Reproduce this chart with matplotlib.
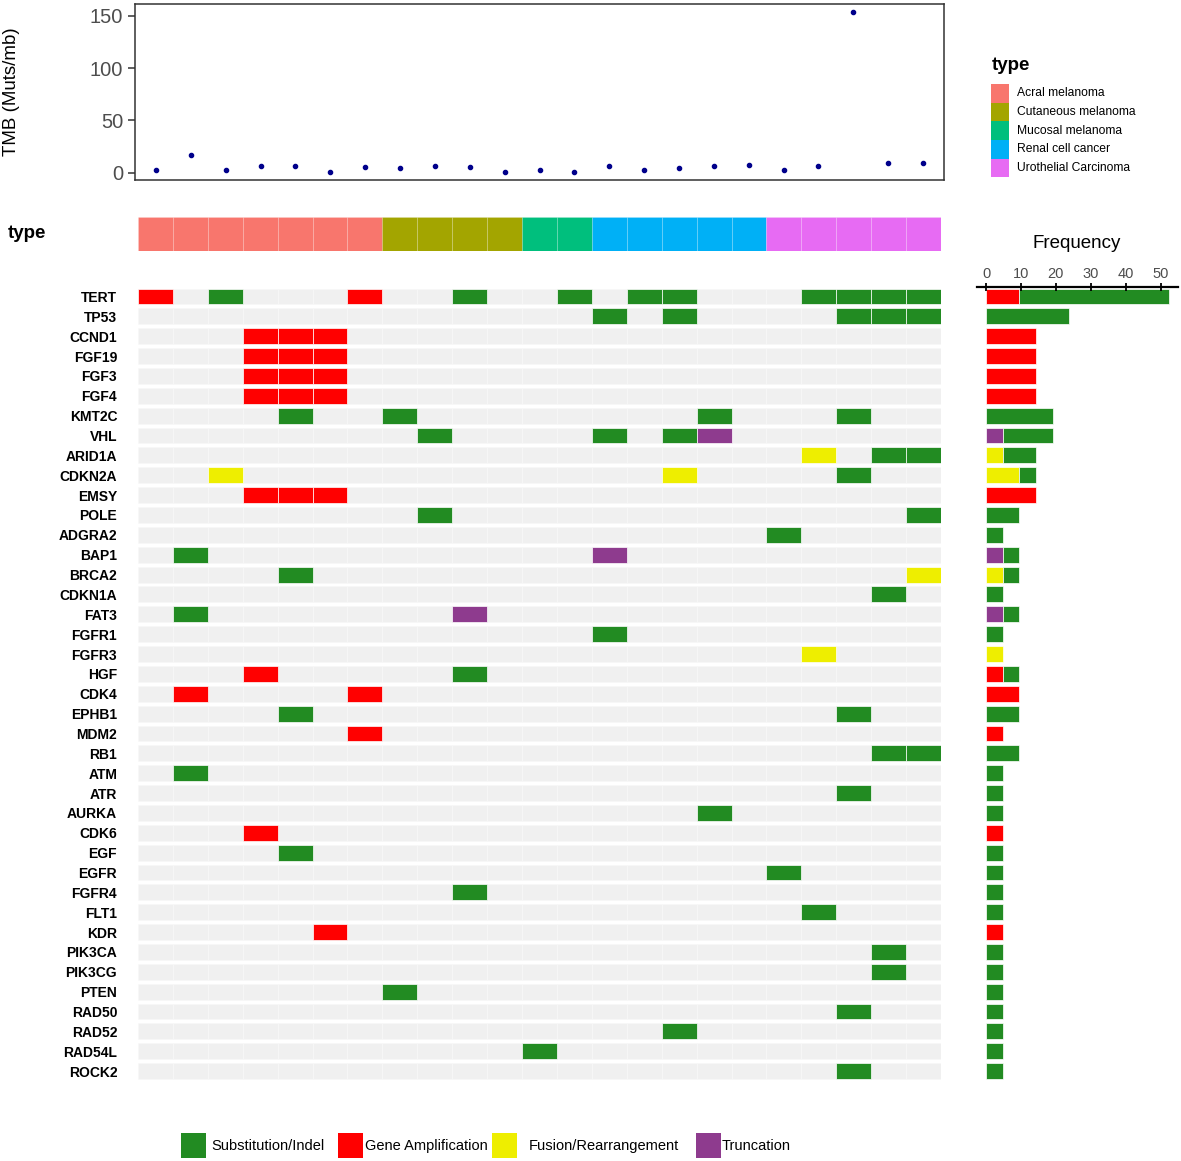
import matplotlib
matplotlib.use('Agg')
import matplotlib.pyplot as plt
from matplotlib.patches import Rectangle
import numpy as np

plt.rcParams['font.family'] = ['Liberation Sans', 'DejaVu Sans']

# ---------------- data ----------------
n_samples = 23
n_patients = 21  # frequency denominator implied by the bar lengths
tmb = [2.5, 17.3, 2.5, 6.9, 6.6, 0.9, 5.3, 5.0, 6.3, 5.3, 1.2, 3.1, 1.2,
       6.3, 3.1, 4.7, 6.6, 7.9, 3.1, 6.3, 153.1, 9.5, 9.5]
type_names = ['Acral melanoma', 'Cutaneous melanoma', 'Mucosal melanoma',
              'Renal cell cancer', 'Urothelial Carcinoma']
type_counts = [7, 4, 2, 5, 5]
type_colors = ['#F8766D', '#A3A500', '#00BF7D', '#00B0F6', '#E76BF3']

genes = ['TERT', 'TP53', 'CCND1', 'FGF19', 'FGF3', 'FGF4', 'KMT2C', 'VHL',
         'ARID1A', 'CDKN2A', 'EMSY', 'POLE', 'ADGRA2', 'BAP1', 'BRCA2',
         'CDKN1A', 'FAT3', 'FGFR1', 'FGFR3', 'HGF', 'CDK4', 'EPHB1', 'MDM2',
         'RB1', 'ATM', 'ATR', 'AURKA', 'CDK6', 'EGF', 'EGFR', 'FGFR4', 'FLT1',
         'KDR', 'PIK3CA', 'PIK3CG', 'PTEN', 'RAD50', 'RAD52', 'RAD54L', 'ROCK2']

# sample indices (1-based) per gene for each alteration class
substitution = {
    'TERT': [3, 10, 13, 15, 16, 20, 21, 22, 23], 'TP53': [14, 16, 21, 22, 23],
    'KMT2C': [5, 8, 17, 21], 'VHL': [9, 14, 16], 'ARID1A': [22, 23],
    'CDKN2A': [21], 'POLE': [9, 23], 'ADGRA2': [19], 'BAP1': [2],
    'BRCA2': [5], 'CDKN1A': [22], 'FAT3': [2], 'FGFR1': [14], 'HGF': [10],
    'EPHB1': [5, 21], 'RB1': [22, 23], 'ATM': [2], 'ATR': [21],
    'AURKA': [17], 'EGF': [5], 'EGFR': [19], 'FGFR4': [10], 'FLT1': [20],
    'PIK3CA': [22], 'PIK3CG': [22], 'PTEN': [8], 'RAD50': [21],
    'RAD52': [16], 'RAD54L': [12], 'ROCK2': [21]}
amplification = {
    'TERT': [1, 7], 'CCND1': [4, 5, 6], 'FGF19': [4, 5, 6], 'FGF3': [4, 5, 6],
    'FGF4': [4, 5, 6], 'EMSY': [4, 5, 6], 'HGF': [4], 'CDK4': [2, 7],
    'MDM2': [7], 'CDK6': [4], 'KDR': [6]}
fusion = {'ARID1A': [20], 'CDKN2A': [3, 16], 'BRCA2': [23], 'FGFR3': [20]}
truncation = {'VHL': [17], 'BAP1': [14], 'FAT3': [10]}

class_names = ['Substitution/Indel', 'Gene Amplification',
               'Fusion/Rearrangement', 'Truncation']
class_colors = ['#228B22', '#FF0000', '#EEEE00', '#8E3B8E']
class_data = [substitution, amplification, fusion, truncation]
stack_order = [1, 2, 3, 0]  # amplification, fusion, truncation, substitution

# ---------------- figure ----------------
W, H = 1181, 1161
fig = plt.figure(figsize=(W / 100, H / 100), dpi=100)


def px_axes(l, t, r, b):
    return fig.add_axes([l / W, 1 - b / H, (r - l) / W, (b - t) / H])


cols = np.arange(1, n_samples + 1)
rows = np.arange(len(genes))
cell_h = 0.8

# ---- TMB panel ----
ax_t = px_axes(135, 4.3, 944, 180)
ax_t.scatter(cols, tmb, s=9, color='#00008B', zorder=3)
ax_t.set_xlim(0.4, n_samples + 0.6)
ax_t.set_ylim(-6.7, 160.7)
ax_t.set_xticks([])
ax_t.set_yticks([0, 50, 100, 150])
ax_t.tick_params(axis='y', labelsize=14.5, labelcolor='#4D4D4D',
                 color='#333333', length=5, width=1.1, pad=3.4)
for s in ax_t.spines.values():
    s.set_color('#333333')
    s.set_linewidth(1.1)
fig.text(12 / W, 1 - 92 / H, 'TMB (Muts/mb)', rotation=90, ha='center',
         va='center', fontsize=13.5, color='black')

# ---- type bar ----
ax_y = px_axes(138, 216.7, 941, 251)
sample_type_colors = []
for c, n in zip(type_colors, type_counts):
    sample_type_colors += [c] * n
ax_y.bar(cols, 1, width=1, bottom=0, color=sample_type_colors,
         edgecolor=(1, 1, 1, 0.25), linewidth=0.4)
ax_y.set_xlim(0.5, n_samples + 0.5)
ax_y.set_ylim(0, 1)
ax_y.axis('off')
fig.text(8 / W, 1 - 234 / H, 'type', ha='left', va='center',
         fontsize=13.5, fontweight='bold')

# ---- oncoprint grid ----
ax_g = px_axes(138, 286.6, 941, 1081)
for r in rows:
    ax_g.barh(np.full(n_samples, r), 1, left=cols - 0.5, height=cell_h,
              color='#F0F0F0', edgecolor='#F8F8F8', linewidth=0.5)
for data, color in zip(class_data, class_colors):
    for g, samples in data.items():
        r = genes.index(g)
        for s in samples:
            ax_g.add_patch(Rectangle((s - 0.5, r - cell_h / 2), 1, cell_h,
                                     facecolor=color, edgecolor='white',
                                     linewidth=0.5, zorder=3))
ax_g.set_xlim(0.5, n_samples + 0.5)
ax_g.set_ylim(len(genes) - 0.5, -0.5)
ax_g.set_xticks([])
ax_g.set_yticks(rows)
ax_g.set_yticklabels(genes, fontsize=10, fontweight='bold')
ax_g.tick_params(axis='y', length=0, pad=15)
for s in ax_g.spines.values():
    s.set_visible(False)

# ---- frequency panel ----
ax_f = px_axes(977, 286.6, 1178, 1081)
left = np.zeros(len(genes))
for k in stack_order:
    data = class_data[k]
    counts = np.array([len(data.get(g, [])) for g in genes], dtype=float)
    vals = counts / n_patients * 100
    mask = vals > 0
    ax_f.barh(rows[mask], vals[mask], left=left[mask], height=cell_h,
              color=class_colors[k], edgecolor='white', linewidth=0.5)
    left += vals
ax_f.set_xlim(-2.6, 55)
ax_f.set_ylim(len(genes) - 0.5, -0.5)
ax_f.xaxis.tick_top()
ax_f.set_xticks([0, 10, 20, 30, 40, 50])
ax_f.set_yticks([])
ax_f.tick_params(axis='x', labelsize=10.5, labelcolor='#4D4D4D',
                 color='black', length=5.5, width=1.3, pad=1.5,
                 direction='inout')
for name, s in ax_f.spines.items():
    s.set_visible(name == 'top')
ax_f.spines['top'].set_linewidth(1.6)
fig.text(1077 / W, 1 - 243 / H, 'Frequency', ha='center', va='center',
         fontsize=13.5)

# ---- type legend ----
fig.text(992 / W, 1 - 65 / H, 'type', ha='left', va='center',
         fontsize=13.5, fontweight='bold')
for i, (name, c) in enumerate(zip(type_names, type_colors)):
    top = 84 + i * 18.67
    fig.add_artist(Rectangle((991 / W, 1 - (top + 18.67) / H), 18 / W,
                             18.67 / H, facecolor=c, edgecolor='none',
                             transform=fig.transFigure))
    fig.text(1016.7 / W, 1 - (top + 9.3) / H, name, ha='left', va='center',
             fontsize=8.7)

# ---- alteration legend ----
sq_x = [181, 337.5, 492, 695.5]
tx_x = [211.6, 365, 528.6, 722]
for name, c, sx, tx in zip(class_names, class_colors, sq_x, tx_x):
    fig.add_artist(Rectangle((sx / W, 1 - 1158 / H), 25 / W, 25 / H,
                             facecolor=c, edgecolor='none',
                             transform=fig.transFigure))
    fig.text(tx / W, 1 - 1146 / H, name, ha='left', va='center',
             fontsize=10.5)

fig.savefig('out.png', dpi=100)
